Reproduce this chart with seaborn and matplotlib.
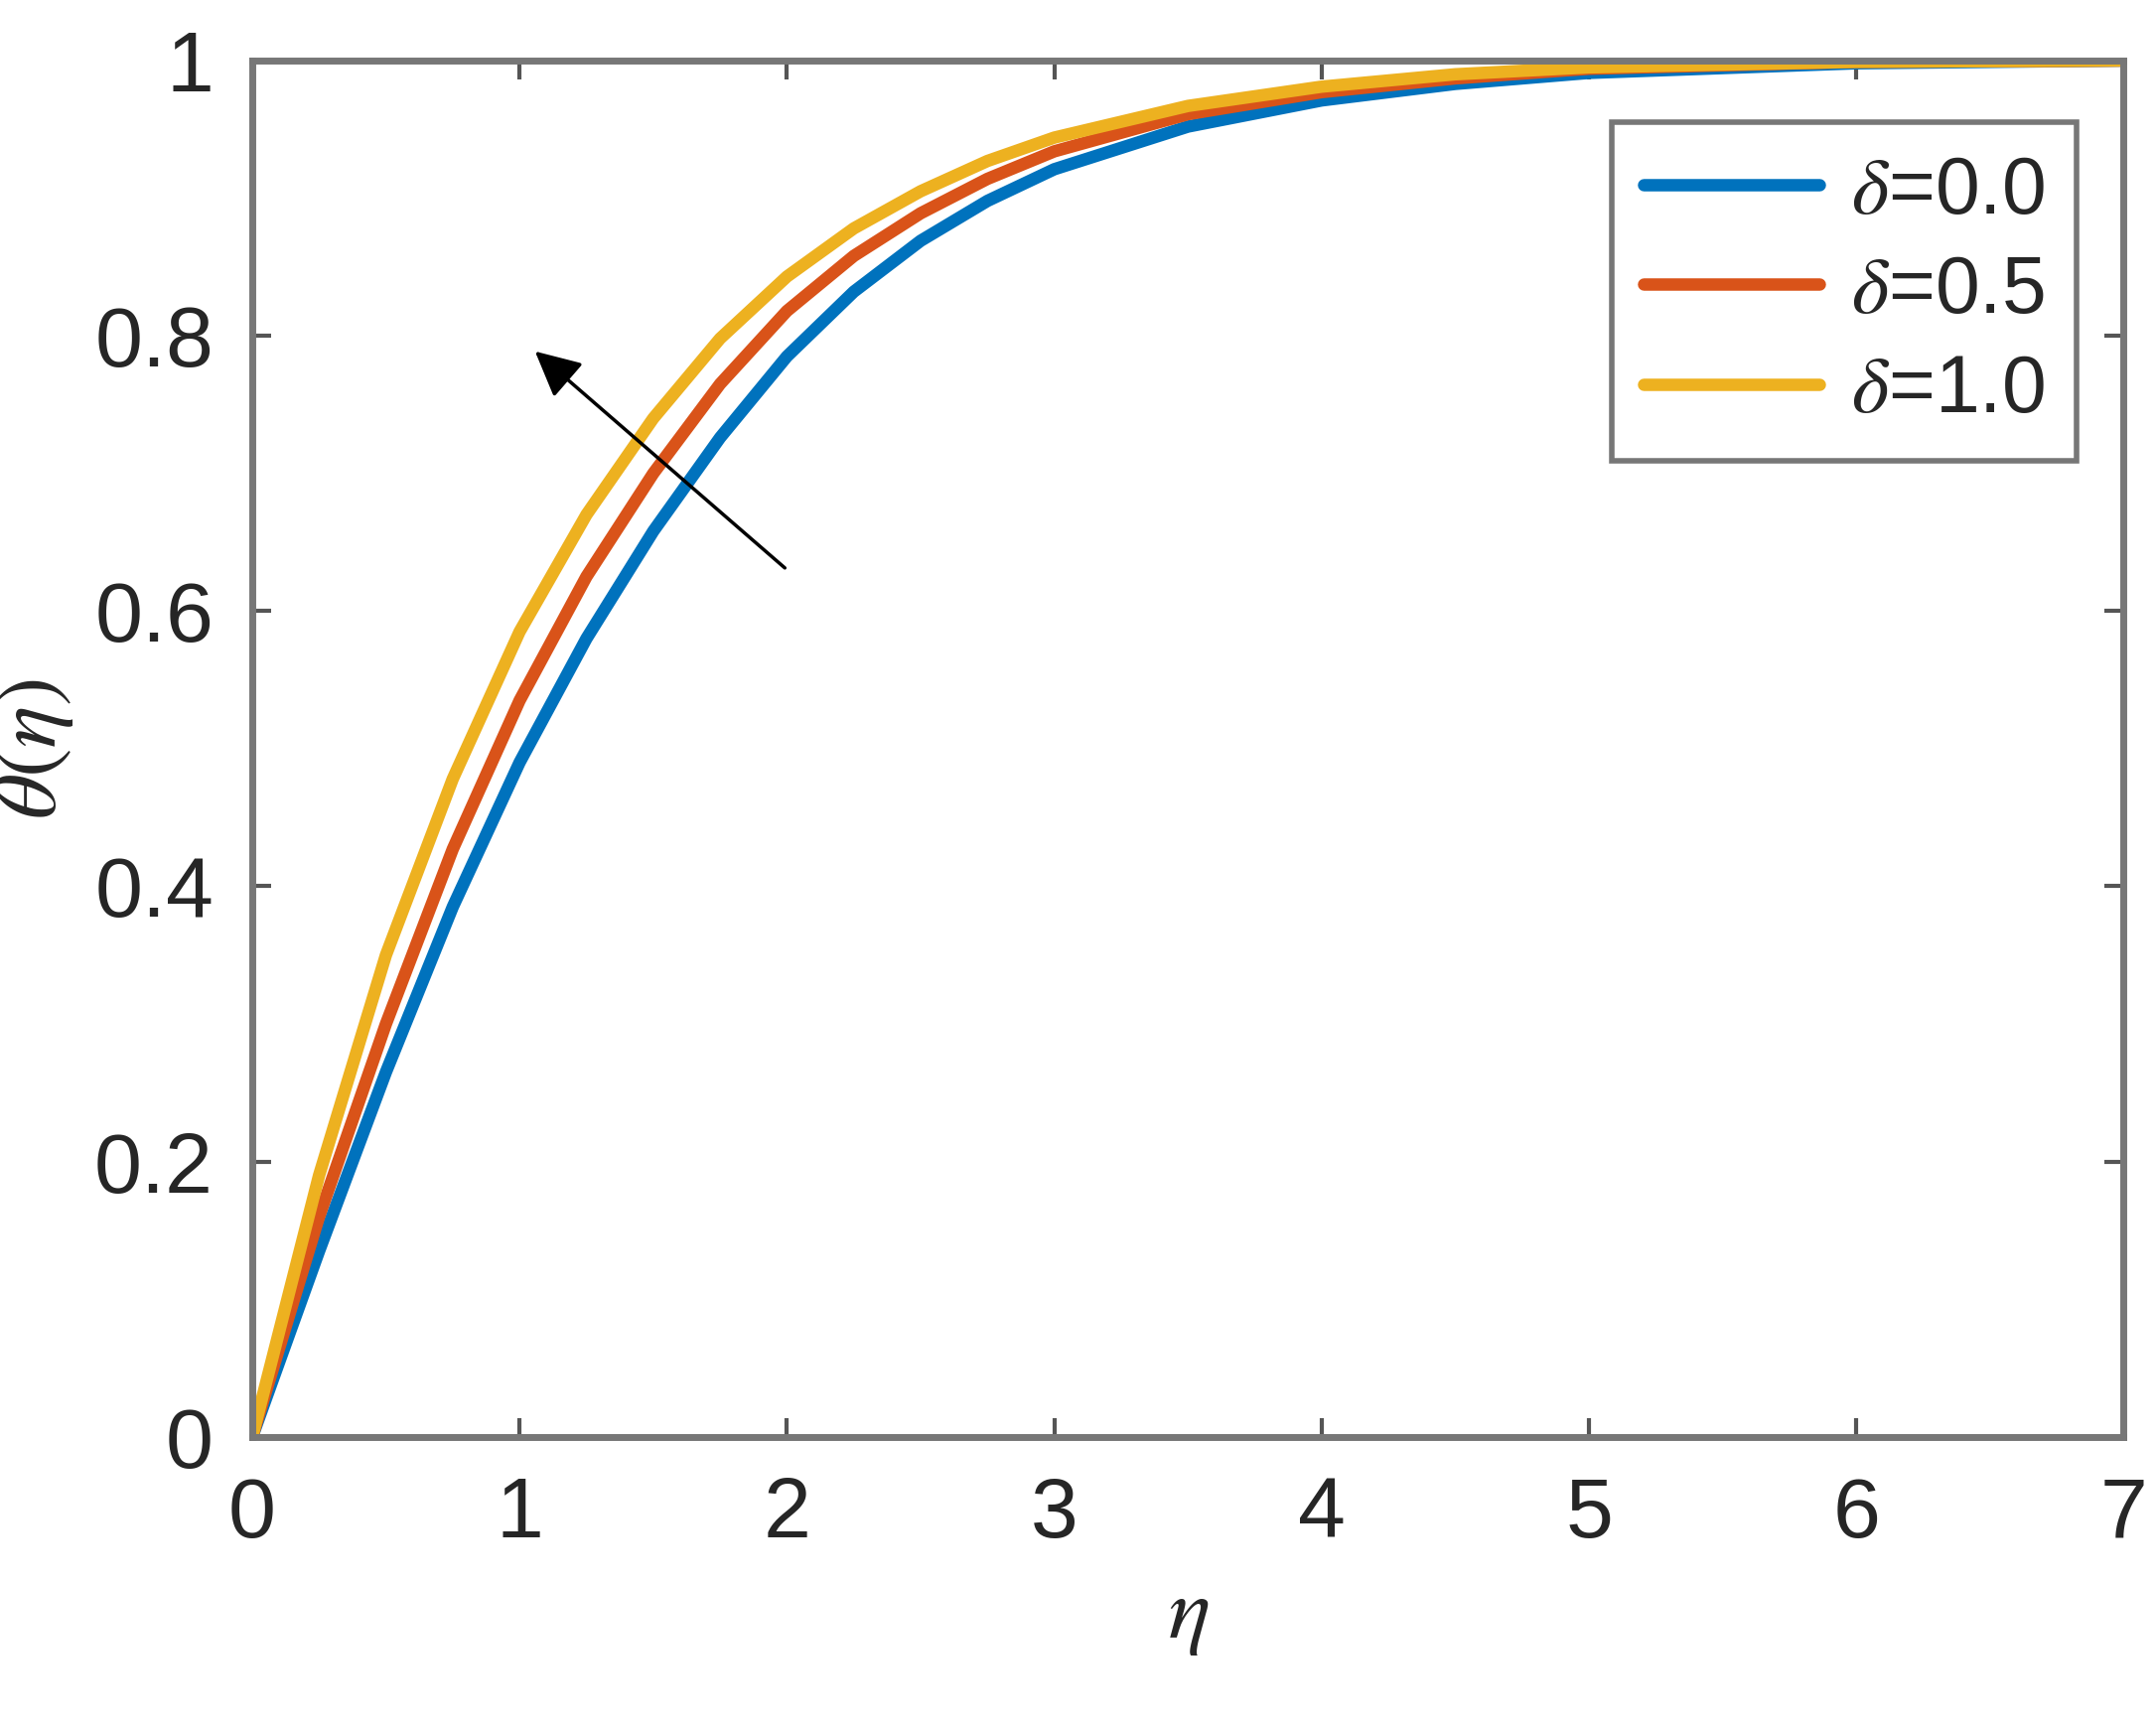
import numpy as np
import pandas as pd
import seaborn as sns
import matplotlib.pyplot as plt

sns.set_style("white")
plt.rcParams['font.family'] = ['Liberation Sans', 'DejaVu Sans']
plt.rcParams['mathtext.fontset'] = 'stix'

eta = [0, 0.25, 0.5, 0.75, 1, 1.25, 1.5, 1.75, 2, 2.25, 2.5, 2.75, 3, 3.5, 4, 4.5, 5, 6, 7]
theta_d00 = [0, 0.135, 0.265, 0.385, 0.49, 0.58, 0.658, 0.726, 0.785, 0.832, 0.869, 0.898, 0.921, 0.952, 0.971, 0.983, 0.991, 0.998, 1.0]
theta_d05 = [0, 0.16, 0.30, 0.427, 0.535, 0.625, 0.70, 0.765, 0.818, 0.858, 0.889, 0.914, 0.934, 0.961, 0.977, 0.987, 0.994, 0.999, 1.0]
theta_d10 = [0, 0.19, 0.35, 0.478, 0.585, 0.67, 0.74, 0.798, 0.843, 0.878, 0.905, 0.927, 0.944, 0.967, 0.981, 0.99, 0.995, 0.999, 1.0]
labels = [r'$\delta$=0.0', r'$\delta$=0.5', r'$\delta$=1.0']
colors = ['#0072BD', '#D95319', '#EDB120']

df = pd.concat([pd.DataFrame({'eta': eta, 'theta': v, 'case': l})
                for v, l in zip([theta_d00, theta_d05, theta_d10], labels)])

fig = plt.figure(figsize=(21.71, 17.41), dpi=100)
ax = fig.add_axes([0.117, 0.169, 0.868, 0.796])
sns.lineplot(data=df, x='eta', y='theta', hue='case', palette=colors, lw=9, ax=ax)

ax.set_xlim(0, 7)
ax.set_ylim(0, 1)
ax.set_xticks(range(8))
ax.set_yticks([0, 0.2, 0.4, 0.6, 0.8, 1])
ax.set_yticklabels(['0', '0.2', '0.4', '0.6', '0.8', '1'])
ax.tick_params(labelsize=62, direction='in', length=14, width=3, color='#555555',
               top=True, right=True, left=True, bottom=True, pad=28)
for s in ax.spines.values():
    s.set_color('#777777')
    s.set_linewidth(5)
ax.set_xlabel(r'$\eta$', fontsize=64, labelpad=14)
ax.set_ylabel(r'$\theta(\eta)$', fontsize=64, labelpad=14)

ax.annotate('', xy=(1.05, 0.79), xytext=(2.0, 0.63),
            arrowprops=dict(arrowstyle='-|>', color='black', lw=2.5, mutation_scale=70))

leg = ax.legend(loc='upper right', fontsize=58, frameon=True, fancybox=False,
                handlelength=2.2, handletextpad=0.4, labelspacing=0.3,
                borderaxespad=0, bbox_to_anchor=(0.975, 0.955))
leg.get_frame().set_edgecolor('#555555')
leg.get_frame().set_linewidth(4)
for h in leg.get_lines():
    h.set_linewidth(9)

fig.savefig('out.png', dpi=100)
